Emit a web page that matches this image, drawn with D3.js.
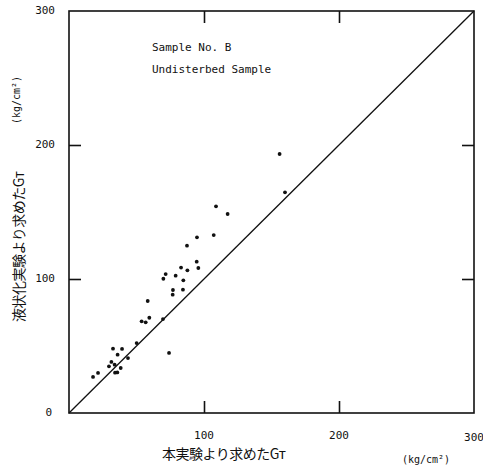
<!DOCTYPE html>
<html>
<head>
<meta charset="utf-8">
<script src="https://cdn.jsdelivr.net/npm/d3@7"></script>
<style>
  html, body { margin: 0; padding: 0; background: #fff; }
  svg { display: block; }
</style>
</head>
<body>
<svg id="chart" width="483" height="469"></svg>
<script>
// Data
const xValues = [17.8, 21.5, 29.6, 31.4, 32.6, 33.8, 34.1, 35.8, 36.0, 38.3, 39.3, 43.7, 50.1, 53.8, 56.8, 58.3, 59.5, 69.6, 74.1, 69.9, 71.6, 76.8, 77.0, 79.0, 83.0, 84.7, 84.4, 87.7, 87.4, 94.6, 95.8, 94.8, 107.2, 108.9, 117.5, 156.0, 160.0];
const yValues = [26.9, 29.9, 34.8, 38.1, 48.0, 36.1, 30.1, 30.3, 43.5, 33.6, 47.8, 41.0, 52.2, 68.4, 67.7, 83.6, 71.1, 70.1, 44.8, 100.2, 103.7, 88.3, 91.8, 102.5, 108.5, 99.0, 92.0, 106.5, 124.9, 112.9, 108.2, 131.1, 132.8, 154.2, 148.5, 193.3, 164.7];
const xTicks = [100, 200, 300];
const yTicks = [0, 100, 200, 300];
const refLine = [[0, 0], [300, 300]];
const labelLines = ["Sample No. B", "Undisterbed Sample"];
const xTitle = "本実験より求めたGт";
const yTitle = "液状化実験より求めたGт";
const unitText = "(kg/cm²)";

const svg = d3.select("#chart");
const pLeft = 69, pRight = 474, pTop = 11, pBottom = 413;
const x = d3.scaleLinear().domain([0, 300]).range([pLeft, pRight]);
const y = d3.scaleLinear().domain([0, 300]).range([pBottom, pTop]);
const mono = "'DejaVu Sans Mono', monospace";
const cjk = "'Noto Sans CJK JP', sans-serif";

// frame
svg.append("rect")
  .attr("x", pLeft).attr("y", pTop)
  .attr("width", pRight - pLeft).attr("height", pBottom - pTop)
  .attr("fill", "none").attr("stroke", "#111").attr("stroke-width", 1.6);

// axes with inward ticks, labels drawn separately
const tickLen = 12;
const gB = svg.append("g").attr("transform", `translate(0,${pBottom})`)
  .call(d3.axisTop(x).tickValues([100, 200]).tickSize(tickLen).tickFormat(""));
const gT = svg.append("g").attr("transform", `translate(0,${pTop})`)
  .call(d3.axisBottom(x).tickValues([100, 200]).tickSize(tickLen).tickFormat(""));
const gL = svg.append("g").attr("transform", `translate(${pLeft},0)`)
  .call(d3.axisRight(y).tickValues([100, 200]).tickSize(tickLen).tickFormat(""));
const gR = svg.append("g").attr("transform", `translate(${pRight},0)`)
  .call(d3.axisLeft(y).tickValues([100, 200]).tickSize(tickLen).tickFormat(""));
[gB, gT, gL, gR].forEach(g => {
  g.select(".domain").remove();
  g.selectAll(".tick line").attr("stroke", "#111").attr("stroke-width", 1.6);
});

// tick labels
svg.append("g").selectAll("text").data(xTicks).join("text")
  .attr("x", d => x(d))
  .attr("y", d => d === 300 ? 441 : 439)
  .attr("text-anchor", "middle")
  .attr("font-family", mono).attr("font-size", 11)
  .attr("fill", "#111")
  .text(d => d);
svg.append("g").selectAll("text").data(yTicks).join("text")
  .attr("x", d => d === 0 ? 52 : 55)
  .attr("y", d => y(d) + 3)
  .attr("text-anchor", "end")
  .attr("font-family", mono).attr("font-size", 11)
  .attr("fill", "#111")
  .text(d => d);

// diagonal reference line
svg.append("path")
  .datum(refLine)
  .attr("d", d3.line().x(d => x(d[0])).y(d => y(d[1])))
  .attr("fill", "none").attr("stroke", "#111").attr("stroke-width", 1.3);

// points
svg.append("g").selectAll("circle").data(xValues.map((v, i) => [v, yValues[i]])).join("circle")
  .attr("cx", d => x(d[0])).attr("cy", d => y(d[1]))
  .attr("r", 1.9).attr("fill", "#111");

// annotation
svg.append("g").selectAll("text").data(labelLines).join("text")
  .attr("x", 152)
  .attr("y", (d, i) => 51 + i * 22)
  .attr("font-family", mono).attr("font-size", 11)
  .attr("fill", "#111")
  .text(d => d);

// axis titles
svg.append("text")
  .attr("x", 162).attr("y", 459)
  .attr("font-family", cjk).attr("font-size", 14)
  .attr("fill", "#111").attr("font-weight", 400)
  .attr("letter-spacing", -0.5)
  .text(xTitle);

svg.append("text")
  .attr("transform", "translate(24,322) rotate(-90)")
  .attr("font-family", cjk).attr("font-size", 14)
  .attr("fill", "#111").attr("font-weight", 400)
  .attr("letter-spacing", -0.5)
  .text(yTitle);

// units
svg.append("text")
  .attr("x", 426).attr("y", 463)
  .attr("text-anchor", "middle")
  .attr("font-family", mono).attr("font-size", 10)
  .attr("fill", "#111")
  .text(unitText);
svg.append("text")
  .attr("transform", "translate(20,100) rotate(-90)")
  .attr("text-anchor", "middle")
  .attr("font-family", mono).attr("font-size", 10)
  .attr("fill", "#111")
  .text(unitText);
</script>
</body>
</html>
